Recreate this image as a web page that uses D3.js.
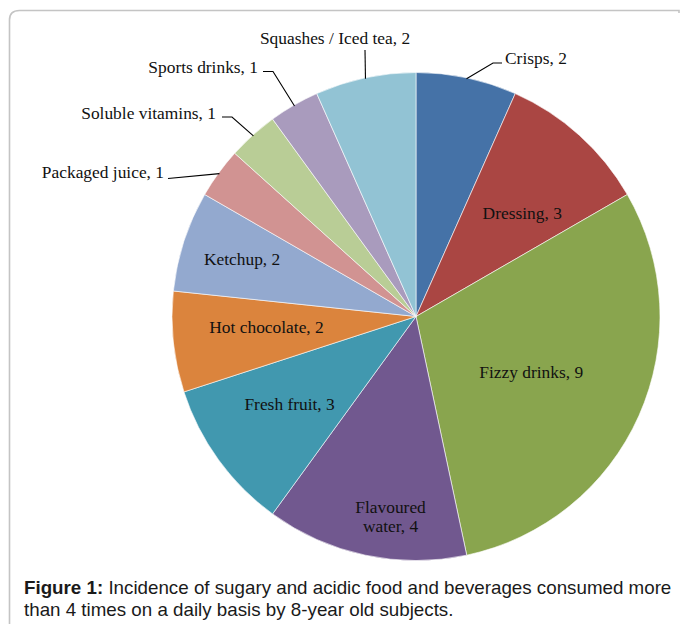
<!DOCTYPE html>
<html><head><meta charset="utf-8">
<script src="https://cdn.jsdelivr.net/npm/d3@7"></script>
<style>
html,body{margin:0;padding:0;background:#fff;}
svg{display:block;}
</style></head>
<body>
<script>
// ---- data ----
const categories = ["Crisps","Dressing","Fizzy drinks","Flavoured water","Fresh fruit","Hot chocolate","Ketchup","Packaged juice","Soluble vitamins","Sports drinks","Squashes / Iced tea"];
const values = [2,3,9,4,3,2,2,1,1,1,2];
const colors = ["#4572A7","#AA4643","#89A54E","#71588F","#4198AF","#DB843D","#93A9CF","#D19392","#B9CD96","#A99BBD","#92C3D4"];
const captionBold = "Figure 1:";
const captionLine1 = " Incidence of sugary and acidic food and beverages consumed more";
const captionLine2 = "than 4 times on a daily basis by 8-year old subjects.";

// ---- layout ----
const W = 681, H = 624;
const cx = 416, cy = 316.5, R = 244;
// inside labels: nudges from centroid at 0.62R
const inside = {
  1: {dx: 5, dy: 9},
  2: {dx: -23, dy: -6},
  3: {dx: 6, dy: 52, lines: ["Flavoured", "water, 4"]},
  4: {dx: -4, dy: -2},
  5: {dx: 1, dy: -5},
  6: {dx: -30, dy: -11}
};
// outside labels: text position, anchor, elbow
const outside = {
  0: {tx: 505, ty: 58, anchor: "start", elbow: [[493,63],[502,63]]},
  7: {tx: 164, ty: 172, anchor: "end", elbow: [[168,178.5]]},
  8: {tx: 216, ty: 113, anchor: "end", elbow: [[232,117],[222,117]]},
  9: {tx: 258, ty: 67, anchor: "end", elbow: [[273,71.5],[263,71.5]]},
  10: {tx: 335, ty: 38, anchor: "middle", elbow: [[365,50]]}
};

const svg = d3.select("body").append("svg").attr("width", W).attr("height", H);

// frame
svg.append("path")
  .attr("d", `M9.5,${H+2} L9.5,20 Q9.5,10.5 19.5,10.5 L679,10.5 L679,13`)
  .attr("fill","none").attr("stroke","#c4c4c4").attr("stroke-width",1.6);

const pie = d3.pie().value(d => d).sort(null);
const arcs = pie(values);
const arc = d3.arc().innerRadius(0).outerRadius(R);
const g = svg.append("g").attr("transform", `translate(${cx},${cy})`);

g.selectAll("path.slice").data(arcs).join("path")
  .attr("class","slice")
  .attr("d", arc)
  .attr("fill", (d,i) => colors[i])
  .attr("stroke", "#fff").attr("stroke-width", 0.6);

const labelArc = d3.arc().innerRadius(R*0.62).outerRadius(R*0.62);
const edgeArc = d3.arc().innerRadius(R-1).outerRadius(R-1);
const font = "'Liberation Serif','Times New Roman',serif";
const fs = 17.4;

arcs.forEach((d,i) => {
  const txt = categories[i] + ", " + values[i];
  if (inside[i]) {
    const c = labelArc.centroid(d);
    const o = inside[i];
    const x = cx + c[0] + o.dx, y = cy + c[1] + o.dy;
    const lines = o.lines || [txt];
    const lh = 19;
    const t = svg.append("text").attr("x", x).attr("y", y)
      .attr("text-anchor","middle").attr("font-family", font).attr("font-size", fs).attr("fill","#111");
    lines.forEach((l,k) => {
      t.append("tspan").attr("x", x).attr("y", y + (k - (lines.length-1)/2)*lh).attr("dy","0.35em").text(l);
    });
  } else if (outside[i]) {
    const o = outside[i];
    const e = edgeArc.centroid(d);
    const pts = [[cx+e[0], cy+e[1]]].concat(o.elbow);
    svg.append("path").attr("d", d3.line()(pts)).attr("fill","none").attr("stroke","#000").attr("stroke-width",1.1);
    svg.append("text").attr("x", o.tx).attr("y", o.ty).attr("dy","0.35em")
      .attr("text-anchor", o.anchor).attr("font-family", font).attr("font-size", fs).attr("fill","#111")
      .text(txt);
  }
});

// caption (slightly wide rendering, as in the reference)
const capG = svg.append("g").attr("transform","translate(24,0) scale(1.073,1)");
const cap = capG.append("text").attr("x", 0).attr("y", 594.5)
  .attr("font-family","'Liberation Sans',Arial,sans-serif").attr("font-size", 17.5).attr("fill","#1a1a1a");
cap.append("tspan").attr("font-weight","bold").text(captionBold);
cap.append("tspan").text(captionLine1);
capG.append("text").attr("x", 0).attr("y", 616)
  .attr("font-family","'Liberation Sans',Arial,sans-serif").attr("font-size", 17.5).attr("fill","#1a1a1a")
  .text(captionLine2);
</script>
</body></html>
